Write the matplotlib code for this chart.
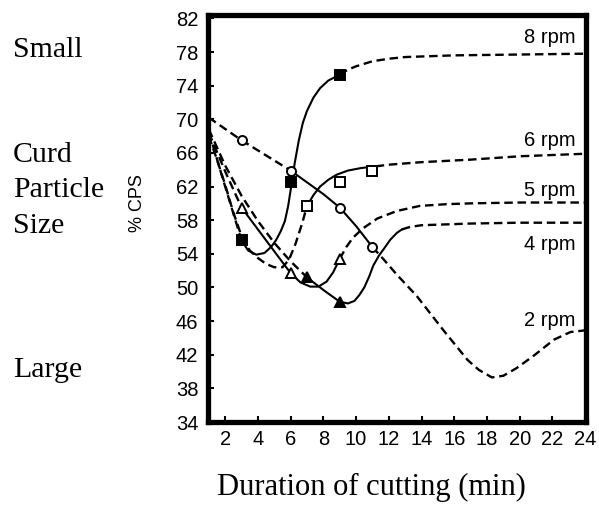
import matplotlib
matplotlib.use("Agg")
import matplotlib.pyplot as plt

# measured markers, per speed
x_2rpm = [3, 6, 9, 11]
y_2rpm = [67.5, 63.9, 59.5, 54.8]
x_4rpm = [7, 9]
y_4rpm = [51.2, 48.3]
x_5rpm = [3, 6, 9]
y_5rpm = [59.5, 51.7, 53.4]
x_6rpm = [7, 9, 11]
y_6rpm = [59.7, 62.6, 63.9]
x_8rpm = [3, 6, 9]
y_8rpm = [55.6, 62.6, 75.3]

# hand drawn curves (solid = fitted, dashed = extrapolated)
rpm2_dash_a = ([1, 3, 6], [70.2, 67.5, 63.9])
rpm2_solid = ([6, 7, 8, 9, 10, 11], [63.9, 62.5, 61.1, 59.5, 57.3, 54.8])
rpm2_dash_b = ([11, 11.7, 12.5, 13.7, 15.3, 16.8, 17.5, 18.3, 19.0, 19.8, 20.8, 22.1, 23.1, 24],
               [54.8, 53.3, 51.5, 49.0, 45.0, 41.4, 40.2, 39.3, 39.5, 40.4, 41.8, 43.8, 44.7, 44.9])

rpm4_dash_a = ([1, 2, 3, 4, 5, 6, 7], [68.8, 64.5, 60.9, 57.9, 55.3, 53.1, 51.2])
rpm4_solid = ([7, 8, 9, 9.5, 9.9, 10.2, 10.5, 10.8, 11.05, 11.4, 11.7, 12.1, 12.5, 12.8],
              [51.2, 49.7, 48.3, 48.1, 48.4, 49.1, 50.0, 51.3, 52.6, 53.8, 54.6, 55.7, 56.5, 56.9])
rpm4_dash_b = ([12.8, 13.3, 14, 15.5, 17, 20, 24], [56.9, 57.2, 57.4, 57.5, 57.6, 57.7, 57.7])

rpm5_dash_a = ([1, 2, 3], [68.4, 63.8, 59.5])
rpm5_solid = ([3, 4, 5, 6, 6.6, 7.2, 7.7, 8.2, 8.6, 9],
              [59.5, 56.9, 54.3, 51.7, 50.6, 50.1, 50.1, 50.7, 51.8, 53.4])
rpm5_dash_b = ([9, 9.4, 9.8, 10.4, 11.3, 12.5, 13.9, 15.5, 17, 20, 24],
               [53.4, 54.8, 55.9, 57.0, 58.2, 59.1, 59.7, 59.9, 60.0, 60.1, 60.1])

rpm6_dash_a = ([1, 1.5, 2, 2.5, 3, 3.5, 4, 4.5, 5, 5.5, 5.9, 6.3, 6.7, 7],
               [68.0, 65.2, 62.2, 58.9, 56.1, 54.4, 53.5, 52.8, 52.4, 52.4, 53.3, 55.2, 57.6, 59.7])
rpm6_solid = ([7, 7.4, 7.8, 8.3, 8.8, 9.5, 10.3, 11.2],
              [59.7, 61.0, 62.0, 62.8, 63.4, 63.9, 64.2, 64.4])
rpm6_dash_b = ([11.2, 12, 14, 17, 20, 24], [64.4, 64.6, 64.9, 65.2, 65.6, 65.9])

rpm8_dash_a = ([1, 2, 3], [68.5, 62.0, 55.6])
rpm8_solid = ([3, 3.4, 3.9, 4.4, 4.8, 5.1, 5.4, 5.65, 5.85, 6.05, 6.25, 6.5, 6.75, 7, 7.4, 7.8, 8.3, 9],
              [55.6, 54.4, 53.9, 54.1, 54.8, 55.6, 56.7, 57.9, 59.7, 62.2, 64.8, 67.5, 69.6, 71.0,
               72.6, 73.7, 74.6, 75.3])
rpm8_dash_b = ([9, 9.5, 10, 11, 12, 13, 16, 24], [75.3, 75.9, 76.3, 76.9, 77.2, 77.4, 77.6, 77.8])

rpm_labels = ['8 rpm', '6 rpm', '5 rpm', '4 rpm', '2 rpm']
label_y = [79.1, 66.8, 60.9, 54.4, 45.4]

x_ticks = list(range(2, 25, 2))
y_ticks = list(range(34, 83, 4))

sans = 'Liberation Sans'
serif = 'Liberation Serif'

fig = plt.figure(figsize=(5.99, 5.12), dpi=100)
ax = fig.add_axes([208 / 599, 90 / 512, 378 / 599, 407 / 512])

lw = 1.7
dash = (0, (3.6, 2))
for dash_a, solid, dash_b in [(rpm2_dash_a, rpm2_solid, rpm2_dash_b),
                              (rpm4_dash_a, rpm4_solid, rpm4_dash_b),
                              (rpm5_dash_a, rpm5_solid, rpm5_dash_b),
                              (rpm6_dash_a, rpm6_solid, rpm6_dash_b),
                              (rpm8_dash_a, rpm8_solid, rpm8_dash_b)]:
    ax.plot(*dash_a, color='black', lw=lw, linestyle=dash)
    ax.plot(*solid, color='black', lw=lw - 0.2)
    ax.plot(*dash_b, color='black', lw=lw, linestyle=dash)

ms = 6.5
ax.plot(x_2rpm, y_2rpm, 'o', ms=ms, mfc='white', mec='black', mew=1.4, ls='none', zorder=5)
ax.plot(x_4rpm, y_4rpm, '^', ms=ms + 0.5, mfc='black', mec='black', mew=1.4, ls='none', zorder=5)
ax.plot(x_5rpm, y_5rpm, '^', ms=ms + 0.5, mfc='white', mec='black', mew=1.4, ls='none', zorder=5)
ax.plot(x_6rpm, y_6rpm, 's', ms=ms, mfc='white', mec='black', mew=1.4, ls='none', zorder=5)
ax.plot(x_8rpm, y_8rpm, 's', ms=ms, mfc='black', mec='black', mew=1.4, ls='none', zorder=5)

for txt, yy in zip(rpm_labels, label_y):
    ax.text(23.4, yy, txt, ha='right', va='baseline', fontsize=14.5, family=sans)

ax.set_xlim(0.95, 24.05)
ax.set_ylim(34, 82.4)
ax.set_xticks(x_ticks)
ax.set_yticks(y_ticks)
ax.tick_params(direction='in', length=4, width=1.5, labelsize=14.5, pad=7)
ax.tick_params(axis='x', pad=6)
for lab in ax.get_xticklabels() + ax.get_yticklabels():
    lab.set_family(sans)
for side in ['left', 'bottom', 'top', 'right']:
    ax.spines[side].set_linewidth(3.8)

# side annotations and axis titles
fig.text(13 / 599, 1 - 57 / 512, 'Small', family=serif, fontsize=21.5, va='baseline')
fig.text(13 / 599, 1 - 162 / 512, 'Curd', family=serif, fontsize=21.5, va='baseline')
fig.text(13 / 599, 1 - 197 / 512, 'Particle', family=serif, fontsize=21.5, va='baseline')
fig.text(13 / 599, 1 - 233 / 512, 'Size', family=serif, fontsize=21.5, va='baseline')
fig.text(13 / 599, 1 - 377 / 512, 'Large', family=serif, fontsize=21.5, va='baseline')
fig.text(138 / 599, 1 - 203 / 512, '% CPS', family=sans, fontsize=13, rotation=90,
         ha='center', va='center')
fig.text(371 / 599, 1 - 495 / 512, 'Duration of cutting (min)', family=serif, fontsize=22,
         ha='center', va='baseline')

fig.savefig('out.png', dpi=100)
